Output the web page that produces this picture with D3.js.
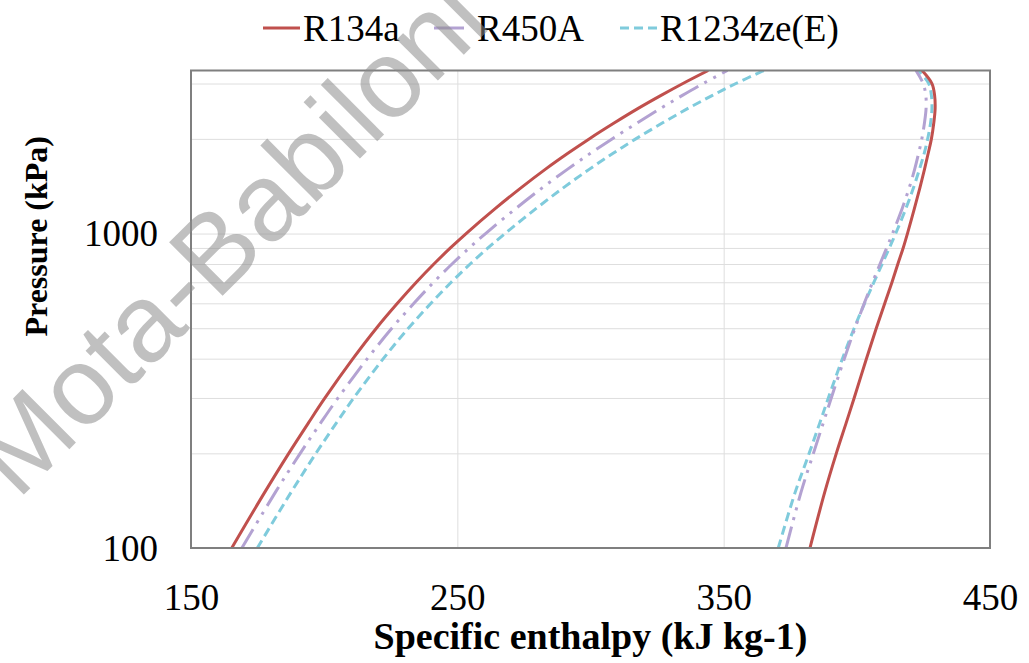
<!DOCTYPE html>
<html>
<head>
<meta charset="utf-8">
<script src="https://cdn.jsdelivr.net/npm/d3@7"></script>
<style>
  html, body { margin: 0; padding: 0; background: #fff; }
  svg { display: block; }
</style>
</head>
<body>
<svg id="chart" width="1029" height="663"></svg>
<script>
"use strict";

// saturation pressures (kPa)
var pressures = [100, 150, 200, 250, 300, 400, 500, 600, 700, 800, 900, 1000,
                 1200, 1400, 1600, 1800, 2000, 2250, 2500, 2750, 3000, 3300];

// saturated liquid / vapour enthalpy (kJ/kg) at each pressure
var r134aLiquid = [165.3, 177.6, 186.7, 194.1, 200.3, 210.8, 219.6, 227.5, 234.6, 241.2, 247.4, 253.3,
                   264.2, 274.0, 283.0, 291.5, 299.5, 309.0, 317.9, 326.5, 334.7, 344.2];
var r134aVapour = [382.4, 387.9, 392.3, 396.0, 399.0, 403.6, 407.3, 410.5, 413.2, 415.4, 417.4, 419.0,
                   421.6, 423.7, 425.4, 426.8, 428.0, 428.9, 429.4, 429.2, 428.2, 424.5];
var r450aLiquid = [169.1, 181.6, 191.0, 198.7, 205.2, 216.2, 225.4, 233.7, 241.1, 248.0, 254.5, 260.6,
                   271.9, 282.0, 291.3, 300.0, 308.1, 317.6, 326.3, 334.5, 342.3, 351.4];
var r450aVapour = [373.4, 379.0, 383.7, 387.4, 390.4, 395.3, 399.3, 402.8, 405.9, 408.7, 411.2, 413.4,
                   417.0, 419.7, 421.7, 423.2, 424.4, 425.4, 426.0, 425.9, 424.9, 422.2];
var r1234Liquid = [174.9, 187.5, 196.9, 204.6, 211.1, 222.2, 231.6, 240.1, 247.7, 254.8, 261.5, 267.9,
                   279.5, 289.9, 299.5, 308.5, 317.0, 327.1, 336.6, 345.8, 354.6, 365.1];
var r1234Vapour = [370.5, 376.8, 382.1, 386.1, 389.3, 394.6, 399.0, 402.9, 406.4, 409.5, 412.2, 414.6,
                   418.4, 421.3, 423.5, 425.3, 426.6, 427.7, 428.2, 428.0, 427.0, 423.1];

var seriesNames = ["R134a", "R450A", "R1234ze(E)"];

var xTicks = [150, 250, 350, 450];
var yTicks = [100, 1000];
var yGrid  = [200, 300, 400, 500, 600, 700, 800, 900, 1000, 2000, 3000];
var xGrid  = [250, 350];

(function(){
    var svg = d3.select("#chart"),
        left = 191, right = 990, top = 70.5, bottom = 548,
        serif = "'Liberation Serif', 'Times New Roman', serif";

    var x = d3.scaleLinear().domain([150, 450]).range([left, right]);
    var y = d3.scaleLog().domain([100, 3300]).range([bottom, top]);

    var styles = [
        { color: "#c0504d", dash: null },
        { color: "#b3a2d2", dash: "22 7 3 7 3 7" },
        { color: "#7fcbdc", dash: "9 5" }
    ];

    var curves = [
        [r134aLiquid, r134aVapour],
        [r450aLiquid, r450aVapour],
        [r1234Liquid, r1234Vapour]
    ];

    svg.append("rect").attr("width", 1029).attr("height", 663).attr("fill", "#fff");

    svg.append("clipPath").attr("id", "plotclip")
        .append("rect")
        .attr("x", left).attr("y", top)
        .attr("width", right - left).attr("height", bottom - top);

    // grid
    var gy = svg.append("g")
        .attr("transform", "translate(" + left + ",0)")
        .call(d3.axisLeft(y).tickValues(yGrid).tickSize(-(right - left)).tickFormat(""));
    gy.select(".domain").remove();
    gy.selectAll("text").remove();
    gy.selectAll("line").attr("stroke", "#dedede").attr("stroke-width", 1);

    var gx = svg.append("g")
        .attr("transform", "translate(0," + bottom + ")")
        .call(d3.axisBottom(x).tickValues(xGrid).tickSize(-(bottom - top)).tickFormat(""));
    gx.select(".domain").remove();
    gx.selectAll("text").remove();
    gx.selectAll("line").attr("stroke", "#dedede").attr("stroke-width", 1);

    // curves
    var line = d3.line()
        .x(function(d){ return x(d[0]); })
        .y(function(d){ return y(d[1]); })
        .curve(d3.curveCatmullRom);

    var plot = svg.append("g").attr("clip-path", "url(#plotclip)");

    // draw the last series first so R134a sits on top
    [2, 1, 0].forEach(function(i){
        curves[i].forEach(function(hs){
            var pts = hs.map(function(h, k){ return [h, pressures[k]]; });
            plot.append("path")
                .attr("d", line(pts))
                .attr("fill", "none")
                .attr("stroke", styles[i].color)
                .attr("stroke-width", 3)
                .attr("stroke-dasharray", styles[i].dash);
        });
    });

    // frame
    svg.append("rect")
        .attr("x", left).attr("y", top)
        .attr("width", right - left).attr("height", bottom - top)
        .attr("fill", "none")
        .attr("stroke", "#7f7f7f")
        .attr("stroke-width", 2);

    // axes labels
    var yAxis = svg.append("g")
        .attr("transform", "translate(" + left + ",0)")
        .call(d3.axisLeft(y).tickValues(yTicks).tickSize(0).tickPadding(33).tickFormat(d3.format("d")));
    yAxis.select(".domain").remove();
    yAxis.selectAll("text")
        .attr("font-family", serif).attr("font-size", 37).attr("fill", "#000")
        .attr("dy", "0.33em");

    var xAxis = svg.append("g")
        .attr("transform", "translate(0," + bottom + ")")
        .call(d3.axisBottom(x).tickValues(xTicks).tickSize(0).tickPadding(36).tickFormat(d3.format("d")));
    xAxis.select(".domain").remove();
    xAxis.selectAll("text")
        .attr("font-family", serif).attr("font-size", 37).attr("fill", "#000");

    svg.append("text")
        .attr("x", (left + right) / 2).attr("y", 649)
        .attr("text-anchor", "middle")
        .attr("font-family", serif).attr("font-size", 38).attr("font-weight", "bold")
        .text("Specific enthalpy (kJ kg-1)");

    svg.append("text")
        .attr("transform", "translate(47," + ((top + bottom) / 2 - 73) + ") rotate(-90)")
        .attr("text-anchor", "middle")
        .attr("font-family", serif).attr("font-size", 32).attr("font-weight", "bold")
        .text("Pressure (kPa)");

    // legend
    var legendX = [263, 434, 620];
    var legend = svg.append("g").selectAll("g")
        .data(seriesNames)
        .enter().append("g")
        .attr("transform", function(d, i){ return "translate(" + legendX[i] + ",28)"; });

    legend.append("line")
        .attr("x1", 0).attr("x2", function(d, i){ return i === 1 ? 30 : 37; })
        .attr("stroke", function(d, i){ return styles[i].color; })
        .attr("stroke-width", 3)
        .attr("stroke-dasharray", function(d, i){ return i === 2 ? "9 5" : null; });

    legend.append("text")
        .attr("x", function(d, i){ return i === 1 ? 43 : 40; })
        .attr("dy", "0.35em")
        .attr("font-family", serif).attr("font-size", 37)
        .text(function(d){ return d; });

    // watermark
    svg.append("text")
        .attr("transform", "translate(228,236) rotate(-45)")
        .attr("text-anchor", "middle")
        .attr("dominant-baseline", "central")
        .attr("font-family", "'Liberation Sans', Arial, sans-serif")
        .attr("font-size", 110)
        .attr("fill", "#8c8c8c")
        .attr("fill-opacity", 0.55)
        .text("Mota-Babiloni");
})();
</script>
</body>
</html>
